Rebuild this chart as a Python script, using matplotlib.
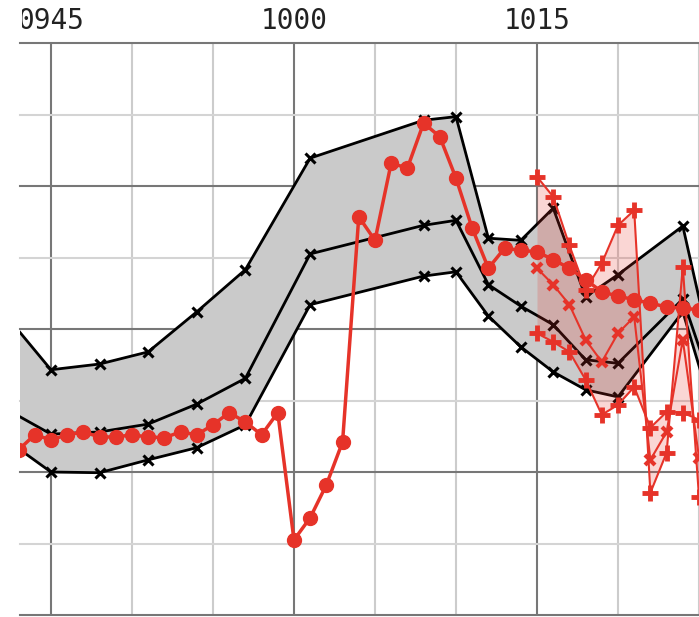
import matplotlib.pyplot as plt
from matplotlib.transforms import Bbox, TransformedBbox

# minutes after 09:45
band_t = [-3, 0, 3, 6, 9, 12, 16, 23, 25, 27, 29, 31, 33, 35, 39, 41]
band_hi = [42.5, 34.3, 35.1, 36.8, 42.4, 48.3, 63.9, 69.2, 69.7, 52.7, 52.4, 56.9, 44.5, 47.6, 54.4, 34.3]
band_mid = [29.1, 25.3, 25.6, 26.7, 29.5, 33.1, 50.5, 54.5, 55.2, 46.2, 43.2, 40.6, 35.7, 35.2, 44.2, 30.8]
band_lo = [24.9, 20.0, 19.9, 21.7, 23.4, 26.6, 43.4, 47.4, 48.0, 41.8, 37.5, 34.0, 31.5, 30.5, 42.4, 27.3]

price_t = list(range(-2, 41))
price = [23.1, 25.2, 24.5, 25.2, 25.6, 24.9, 24.9, 25.2, 24.9, 24.8, 25.6, 25.2, 26.6, 28.3,
         27.0, 25.2, 28.3, 10.5, 13.6, 18.2, 24.2, 55.7, 52.4, 63.2, 62.5, 68.8, 66.9, 61.1,
         54.1, 48.5, 51.3, 51.0, 50.8, 49.7, 48.5, 46.9, 45.2, 44.6, 44.1, 43.6, 43.1, 42.9, 42.7]

fc_t = list(range(30, 41))
fc_hi = [61.3, 58.5, 51.7, 45.5, 49.2, 54.5, 56.6, 17.1, 22.7, 48.7, 16.5]
fc_mid = [48.5, 46.2, 43.4, 38.5, 35.4, 39.4, 41.7, 21.7, 25.6, 38.5, 22.0]
fc_lo = [39.4, 38.2, 36.8, 32.9, 28.0, 29.4, 31.9, 26.2, 28.4, 28.3, 27.3]

tick_pos = [0, 15, 30]
tick_lab = ['0945', '1000', '1015']

RED = '#e63329'

fig = plt.figure(figsize=(6.99, 6.17), dpi=100)
ax = fig.add_axes([20 / 699, 2 / 617, 679 / 699, 572 / 617])
ax.set_xlim(-1.91, 40.0)
ax.set_ylim(0, 80)

# grid
for x in range(0, 41, 5):
    major = x % 15 == 0
    ax.axvline(x, color='#777777' if major else '#cccccc', lw=1.5, zorder=0)
for y in range(0, 81, 10):
    major = y % 20 == 0
    ax.axhline(y, color='#777777' if major else '#d4d4d4', lw=1.5, zorder=0, clip_on=False)
for s in ax.spines.values():
    s.set_visible(False)
ax.set_xticks([])
ax.set_yticks([])

# black band
ax.fill_between(band_t, band_lo, band_hi, color='#cacaca', zorder=1)
for ys in (band_hi, band_mid, band_lo):
    ax.plot(band_t, ys, color='black', lw=2, marker='x', ms=7, mew=2.2, zorder=2)

# red forecast band
ax.fill_between(fc_t, fc_lo, fc_hi, color=RED, alpha=0.2, lw=0, zorder=3)
ax.plot(fc_t, fc_hi, color=RED, lw=1.5, marker='+', ms=12, mew=3.5, zorder=4)
ax.plot(fc_t, fc_mid, color=RED, lw=1.5, marker='x', ms=7, mew=3, zorder=4)
ax.plot(fc_t, fc_lo, color=RED, lw=1.5, marker='+', ms=12, mew=3.5, zorder=4)

# price
ax.plot(price_t, price, color=RED, lw=2.5, marker='o', ms=10, zorder=5)

# top labels, clipped at the plot's left edge
clip = TransformedBbox(Bbox([[22 / 699, 0], [1, 1]]), fig.transFigure)
for x, lab in zip(tick_pos, tick_lab):
    t = ax.text(x, 80 + 1.1, lab, transform=ax.transData, ha='center', va='bottom',
                family='DejaVu Sans Mono', fontsize=20, color='#222222', clip_on=True)
    t.set_clip_box(clip)

fig.savefig('out.png', dpi=100)
